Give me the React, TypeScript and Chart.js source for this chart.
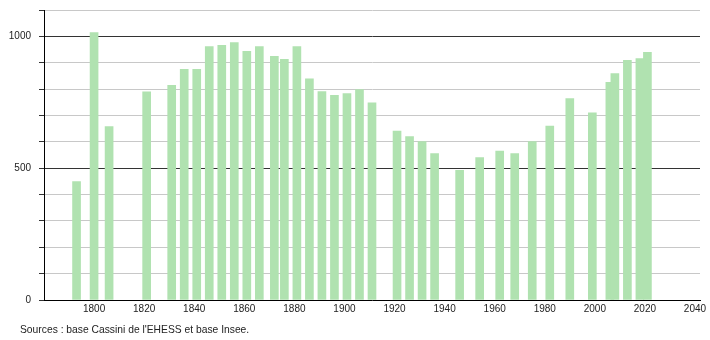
import React, { useEffect, useRef } from "react";
import { Chart, registerables } from "chart.js";

Chart.register(...registerables);

const years = [1793, 1800, 1806, 1821, 1831, 1836, 1841, 1846, 1851, 1856, 1861, 1866, 1872, 1876, 1881, 1886, 1891, 1896, 1901, 1906, 1911, 1921, 1926, 1931, 1936, 1946, 1954, 1962, 1968, 1975, 1982, 1990, 1999, 2006, 2008, 2013, 2018, 2021];
const population = [449, 1014, 658, 790, 814, 875, 875, 961, 966, 976, 943, 961, 924, 913, 961, 839, 791, 776, 783, 798, 748, 641, 620, 601, 555, 492, 540, 565, 555, 601, 660, 764, 710, 826, 859, 909, 916, 939];
const xTickValues = [1800, 1820, 1840, 1860, 1880, 1900, 1920, 1940, 1960, 1980, 2000, 2020, 2040];
const yLabelValues = [0, 500, 1000];
const sourceText = "Sources : base Cassini de l'EHESS et base Insee.";

const FONT = "'Liberation Sans', Arial, Helvetica, sans-serif";

export default function App() {
  const canvasRef = useRef<HTMLCanvasElement | null>(null);

  useEffect(() => {
    document.body.style.margin = "0";
    const canvas = canvasRef.current;
    if (!canvas) return;
    const chart = new Chart(canvas, {
      type: "bar",
      data: {
        datasets: [
          {
            data: years.map((y, i) => ({ x: y, y: population[i] })),
            backgroundColor: "rgb(176,226,176)",
            borderWidth: 0,
            barThickness: 8,
          },
        ],
      },
      options: {
        animation: false,
        responsive: false,
        maintainAspectRatio: false,
        layout: { padding: { top: 10, right: 10, left: 0, bottom: 0 } },
        plugins: {
          legend: { display: false },
          tooltip: { enabled: false },
          title: { display: false },
        },
        scales: {
          x: {
            type: "linear",
            min: 1780,
            max: 2042,
            offset: false,
            grid: { display: false, drawTicks: false },
            border: { display: true, color: "#000", width: 1 },
            afterBuildTicks: (scale: any) => {
              scale.ticks = xTickValues.map((v) => ({ value: v }));
            },
            afterFit: (scale: any) => {
              scale.height = 40;
              scale.paddingLeft = 0;
              scale.paddingRight = 0;
            },
            ticks: {
              autoSkip: false,
              maxRotation: 0,
              padding: 3,
              color: "#222",
              font: { family: FONT, size: 10 },
              callback: (v: any) => String(v),
            },
          },
          y: {
            min: 0,
            max: 1100,
            grid: {
              color: (ctx: any) => {
                const v = ctx.tick ? ctx.tick.value : 0;
                return v > 0 && v % 500 === 0 ? "#333" : "#c8c8c8";
              },
              tickColor: "#333",
              tickLength: 5,
              drawTicks: true,
            },
            border: { display: true, color: "#000", width: 1 },
            afterFit: (scale: any) => {
              scale.width = 44;
              scale.paddingTop = 0;
              scale.paddingBottom = 0;
            },
            ticks: {
              stepSize: 100,
              autoSkip: false,
              padding: 8,
              color: "#222",
              font: { family: FONT, size: 10 },
              callback: (v: any) => (yLabelValues.includes(Number(v)) ? String(v) : ""),
            },
          },
        },
      },
    });
    return () => chart.destroy();
  }, []);

  return (
    <div style={{ position: "fixed", left: 0, top: 0, width: 710, height: 340, background: "#fff" }}>
      <canvas ref={canvasRef} width={710} height={340} style={{ display: "block", width: 710, height: 340 }} />
      <div
        style={{
          position: "absolute",
          left: 20,
          top: 323,
          fontFamily: FONT,
          fontSize: "10.3px",
          color: "#222",
          whiteSpace: "nowrap",
          lineHeight: "14px",
        }}
      >
        {sourceText}
      </div>
    </div>
  );
}
